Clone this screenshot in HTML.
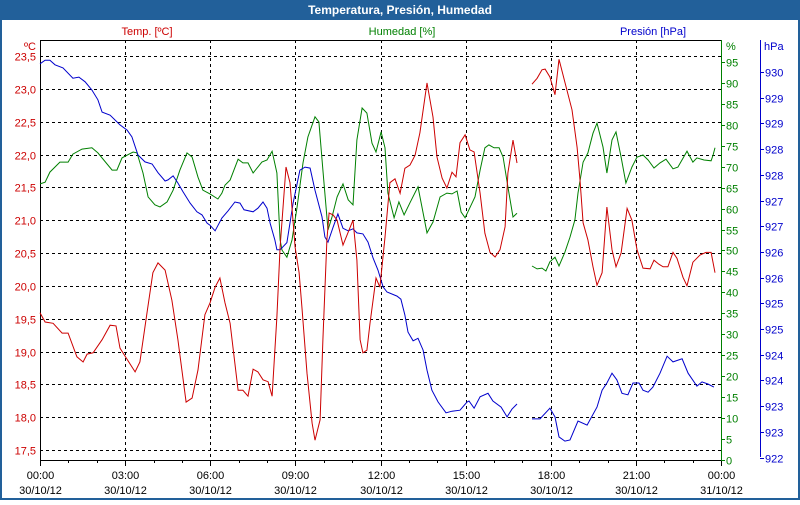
<!DOCTYPE html>
<html><head><meta charset="utf-8">
<style>
html,body{margin:0;padding:0;background:#fff;}
body{width:800px;height:500px;overflow:hidden;font-family:"Liberation Sans",sans-serif;}
svg text{font-family:"Liberation Sans",sans-serif;font-size:11px;}
</style></head>
<body>
<svg id="chart" width="800" height="500" xmlns="http://www.w3.org/2000/svg">
<rect x="0" y="0" width="800" height="500" fill="#ffffff"/>
<rect x="1" y="1" width="798" height="498" fill="none" stroke="#22609a" stroke-width="2"/>
<rect x="0" y="0" width="800" height="20" fill="#22609a"/>
<text x="400" y="14" text-anchor="middle" fill="#ffffff" font-weight="bold" style="font-size:12px">Temperatura, Presión, Humedad</text>
<text x="147" y="35" text-anchor="middle" fill="#cc0000">Temp. [ºC]</text>
<text x="402" y="35" text-anchor="middle" fill="#008000">Humedad [%]</text>
<text x="653" y="35" text-anchor="middle" fill="#0000cc">Presión [hPa]</text>
<text x="36" y="50" text-anchor="end" fill="#cc0000">ºC</text>
<text x="726" y="50" fill="#008000">%</text>
<text x="764" y="50" fill="#0000cc">hPa</text>
<g id="grid"></g>
<g id="axes"></g>
<g id="series"></g>
</svg>
<script>
const tempTimes=[0,0.18,0.46,0.78,0.99,1.30,1.52,1.66,1.87,2.19,2.47,2.68,2.82,3.35,3.52,3.77,3.98,4.16,4.41,4.65,4.86,5.15,5.36,5.57,5.81,5.99,6.17,6.34,6.52,6.70,6.98,7.15,7.33,7.51,7.68,7.86,8.04,8.18,8.35,8.46,8.67,8.81,8.99,9.13,9.23,9.41,9.59,9.69,9.87,9.97,10.11,10.19,10.33,10.47,10.68,11.03,11.17,11.28,11.38,11.52,11.63,11.84,11.98,12.16,12.33,12.51,12.69,12.86,13.04,13.22,13.39,13.64,13.85,13.99,14.17,14.34,14.52,14.66,14.80,14.98,15.15,15.30,15.51,15.68,15.86,16.04,16.21,16.39,16.49,16.67,16.81,17.0,17.34,17.52,17.69,17.80,17.97,18.15,18.29,18.50,18.75,18.93,19.03,19.14,19.31,19.49,19.63,19.81,19.98,20.16,20.30,20.48,20.69,20.86,21.04,21.25,21.50,21.64,21.81,21.96,22.13,22.31,22.45,22.66,22.80,23.01,23.26,23.47,23.65,23.79];
const tempValues=[19.59,19.45,19.43,19.28,19.28,18.92,18.84,18.96,18.98,19.18,19.40,19.39,19.05,18.69,18.84,19.59,20.20,20.35,20.24,19.78,19.18,18.23,18.29,18.72,19.56,19.74,19.98,20.12,19.74,19.43,18.41,18.41,18.32,18.73,18.69,18.57,18.54,18.32,19.53,20.59,21.81,21.57,20.59,20.20,19.68,18.67,17.91,17.65,17.96,19.18,20.70,21.11,21.08,21.00,20.62,21.00,20.39,19.18,18.98,19.02,19.43,20.12,19.98,20.74,21.57,21.63,21.41,21.79,21.84,21.99,22.33,23.09,22.57,21.96,21.64,21.49,21.73,21.66,22.18,22.30,22.07,22.04,21.41,20.80,20.51,20.44,20.55,20.90,21.72,22.22,21.87,null,23.07,23.16,23.29,23.30,23.18,22.91,23.45,23.10,22.68,22.11,21.61,20.96,20.70,20.29,20.01,20.20,21.20,20.55,20.29,20.50,21.18,21.00,20.55,20.27,20.26,20.39,20.33,20.29,20.29,20.51,20.42,20.13,20.00,20.36,20.47,20.51,20.51,20.20];
const humTimes=[0,0.18,0.35,0.70,0.99,1.16,1.48,1.83,2.04,2.54,2.71,2.89,3.28,3.42,3.63,3.81,4.05,4.23,4.48,4.69,4.93,5.18,5.36,5.57,5.74,5.99,6.27,6.41,6.52,6.70,6.98,7.15,7.33,7.51,7.82,8.00,8.18,8.35,8.46,8.53,8.70,8.88,9.06,9.27,9.44,9.69,9.83,9.97,10.15,10.29,10.47,10.68,10.86,11.03,11.17,11.35,11.52,11.70,11.84,12.02,12.16,12.26,12.48,12.65,12.83,13.04,13.32,13.64,13.85,14.10,14.34,14.52,14.70,14.84,14.98,15.33,15.51,15.68,15.82,16.00,16.18,16.32,16.49,16.67,16.81,17.0,17.34,17.52,17.69,17.83,17.97,18.15,18.29,18.50,18.68,18.85,18.96,19.14,19.31,19.49,19.63,19.84,19.98,20.16,20.30,20.48,20.65,20.86,21.04,21.25,21.43,21.64,21.85,22.06,22.31,22.48,22.80,23.01,23.15,23.40,23.65,23.72,23.79];
const humValues=[65.9,66.3,68.7,71.1,71.1,73.0,74.2,74.5,73.3,69.2,69.2,72.1,73.5,73.3,68.5,62.8,60.9,60.4,61.6,64.4,69.2,73.3,72.3,67.5,64.4,63.5,62.3,63.7,65.6,66.8,71.8,70.9,70.9,68.5,71.1,71.6,73.7,68.5,52.5,50.1,48.4,52.5,60.4,70.9,77.1,81.9,80.7,69.2,54.9,58.0,62.8,65.9,62.1,60.9,76.4,84.0,82.8,75.6,73.5,78.3,74.5,63.7,57.8,61.6,58.5,61.4,65.2,54.2,56.8,62.8,63.7,63.5,64.2,59.2,57.8,62.8,69.2,74.5,75.2,74.5,74.5,72.3,65.2,58.0,58.9,null,46.3,45.6,45.8,45.1,47.3,48.4,46.3,49.6,53.2,57.3,63.7,71.1,73.3,78.0,80.4,74.7,68.5,76.4,78.3,72.3,66.1,69.9,72.3,72.8,71.6,69.7,70.9,71.8,69.5,69.9,73.7,71.1,72.1,71.6,71.4,72.8,74.5];
const presTimes=[0,0.18,0.35,0.53,0.81,1.16,1.37,1.59,1.83,2.04,2.19,2.47,2.82,3.07,3.24,3.45,3.70,3.95,4.16,4.41,4.51,4.69,4.86,5.04,5.29,5.53,5.71,5.89,5.99,6.17,6.41,6.63,6.87,7.05,7.19,7.51,7.68,7.86,8.00,8.11,8.28,8.35,8.46,8.70,8.92,9.16,9.34,9.52,9.69,9.94,10.04,10.15,10.33,10.50,10.68,10.86,11.03,11.17,11.38,11.56,11.74,11.91,12.09,12.23,12.58,12.72,12.86,12.97,13.15,13.32,13.50,13.64,13.81,14.03,14.31,14.52,14.80,15.05,15.12,15.30,15.51,15.79,15.96,16.25,16.46,16.63,16.81,17.0,17.34,17.62,17.97,18.15,18.29,18.50,18.68,18.96,19.28,19.63,19.81,19.98,20.16,20.33,20.51,20.72,20.90,21.11,21.25,21.43,21.60,21.85,22.10,22.31,22.63,22.84,23.15,23.33,23.54,23.75];
const presValues=[930.16,930.23,930.23,930.14,930.08,929.88,929.90,929.81,929.65,929.46,929.22,929.16,928.97,928.87,928.74,928.39,928.25,928.21,928.04,927.88,927.90,927.98,927.84,927.67,927.45,927.28,927.22,927.06,927.02,926.91,927.16,927.30,927.47,927.45,927.32,927.28,927.35,927.47,927.35,927.06,926.73,926.54,926.54,926.68,927.45,928.09,928.15,928.13,927.70,927.18,926.79,926.69,926.98,927.24,926.96,926.91,926.95,926.87,926.85,926.69,926.38,926.15,925.82,925.72,925.64,925.58,925.27,924.94,924.77,924.82,924.59,924.20,923.81,923.58,923.37,923.40,923.42,923.58,923.60,923.46,923.68,923.75,923.60,923.48,923.29,923.44,923.54,null,923.25,923.25,923.46,923.29,922.90,922.82,922.84,923.21,923.13,923.48,923.81,923.95,924.14,924.01,923.75,923.72,923.95,923.95,923.81,923.77,923.87,924.14,924.47,924.36,924.42,924.14,923.89,923.97,923.93,923.87];
const tempTicks=[23.5,23.0,22.5,22.0,21.5,21.0,20.5,20.0,19.5,19.0,18.5,18.0,17.5];
const humTicks=[0,5,10,15,20,25,30,35,40,45,50,55,60,65,70,75,80,85,90,95];
const presTicks=[930,929.5,929,928.5,928,927.5,927,926.5,926,925.5,925,924.5,924,923.5,923,922.5];
const timeTicks=[0,3,6,9,12,15,18,21,24];
const timeLabels=["00:00","03:00","06:00","09:00","12:00","15:00","18:00","21:00","00:00"];
const dateLabels=["30/10/12","30/10/12","30/10/12","30/10/12","30/10/12","30/10/12","30/10/12","30/10/12","31/10/12"];

const NS="http://www.w3.org/2000/svg";
const X0=40,X1=721,Y0=40,Y1=460;
function xs(h){return X0+h*(X1-X0)/24;}
function yT(t){return 56+(23.5-t)*65.67;}
function yH(h){return 460-h*4.19;}
function yP(p){return 72+(930-p)*51.4;}
function mk(tag,attrs,parent){const e=document.createElementNS(NS,tag);for(const k in attrs)e.setAttribute(k,attrs[k]);parent.appendChild(e);return e;}
const grid=document.getElementById('grid'),axes=document.getElementById('axes'),ser=document.getElementById('series');

tempTicks.forEach(t=>{
  const y=Math.round(yT(t))+0.5;
  const l=mk('line',{x1:X0,x2:X1,y1:y,y2:y,stroke:'#000','stroke-dasharray':'3,3','stroke-width':1},grid);
  
  
  const tx=mk('text',{x:36,y:y+4,'text-anchor':'end',fill:'#cc0000'},axes);
  tx.textContent=t.toFixed(1).replace('.',',');
  
  
});
timeTicks.forEach((h,i)=>{
  const x=Math.round(xs(h))+0.5;
  if(i>0&&i<timeTicks.length-1){
    const l=mk('line',{x1:x,x2:x,y1:Y0,y2:Y1,stroke:'#000','stroke-dasharray':'3,3','stroke-width':1},grid);
    
    
  }
  const t1=mk('text',{x:x,y:479,'text-anchor':'middle',fill:'#000'},axes);
  t1.textContent=timeLabels[i];
  
  
  const t2=mk('text',{x:x,y:494,'text-anchor':'middle',fill:'#000'},axes);
  t2.textContent=dateLabels[i];
  
  
});
for(let h=0;h<=24;h++){
  const x=Math.round(xs(h))+0.5;
  const tk=mk('line',{x1:x,x2:x,y1:Y1,y2:Y1+(h%3==0?6:3),stroke:'#000'},axes);
  
  
}
humTicks.forEach(v=>{
  const y=Math.round(yH(v))+0.5;
  const tk=mk('line',{x1:X1,x2:X1+4,y1:y,y2:y,stroke:'#008000'},axes);
  
  
  const tx=mk('text',{x:726,y:y+4,fill:'#008000'},axes);
  tx.textContent=String(v);
  
  
});
presTicks.forEach(v=>{
  const y=Math.round(yP(v))+0.5;
  const tk=mk('line',{x1:760,x2:764,y1:y,y2:y,stroke:'#0000cc'},axes);
  
  
  const tx=mk('text',{x:765,y:y+4,fill:'#0000cc'},axes);
  tx.textContent=String(Math.floor(v));
  
  
});
const a1=mk('line',{x1:X0+0.5,x2:X0+0.5,y1:Y0,y2:Y1,stroke:'#000'},axes);


const a2=mk('line',{x1:X0,x2:X1,y1:Y0+0.5,y2:Y0+0.5,stroke:'#000'},axes);


const a3=mk('line',{x1:X0,x2:X1,y1:Y1+0.5,y2:Y1+0.5,stroke:'#000'},axes);


const a4=mk('line',{x1:X1+0.5,x2:X1+0.5,y1:Y0,y2:Y1,stroke:'#008000'},axes);


const a5=mk('line',{x1:760.5,x2:760.5,y1:Y0,y2:457,stroke:'#0000cc'},axes);



function pathOf(times,vals,yf){
  let d='',pen=false;
  for(let i=0;i<times.length;i++){
    if(vals[i]===null){pen=false;continue;}
    d+=(pen?'L':'M')+xs(times[i]).toFixed(1)+','+yf(vals[i]).toFixed(1);
    pen=true;
  }
  return d;
}
const pH=mk('path',{d:pathOf(humTimes,humValues,yH),fill:'none',stroke:'#008000','stroke-width':1},ser);


const pP=mk('path',{d:pathOf(presTimes,presValues,yP),fill:'none',stroke:'#0000cc','stroke-width':1},ser);


const pT=mk('path',{d:pathOf(tempTimes,tempValues,yT),fill:'none',stroke:'#cc0000','stroke-width':1},ser);


</script>
</body></html>
